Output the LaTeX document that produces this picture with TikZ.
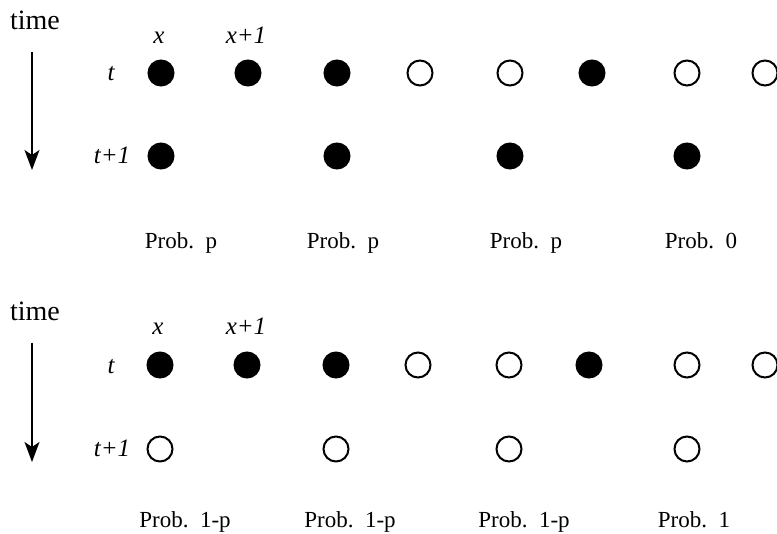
\documentclass[tikz,border=0pt]{standalone}
\usepackage{fontspec}
\setmainfont{Liberation Serif}
\usetikzlibrary{positioning,arrows.meta}

\begin{document}
\begin{tikzpicture}[x=0.5pt,y=-0.5pt,
      every node/.style={inner sep=0pt},
      occ/.style={circle,draw,fill=black,line width=1pt,minimum size=12.5pt},
      emp/.style={occ,fill=white},
      axlbl/.style={anchor=base,font=\fontsize{12.5}{14}\selectfont\itshape},
      timelbl/.style={anchor=base,font=\fontsize{14}{16}\selectfont},
      prob/.style={anchor=base,font=\fontsize{11.5}{13}\selectfont},
      timearrow/.style={-{Stealth[length=10pt,width=7.5pt,inset=2.5pt]},line width=0.6pt}]
    \useasboundingbox (0,0) rectangle (777,534);
    % upper panel: the occupied site stays occupied
    \node[timelbl] (time1) at (35,30) {time};
    \coordinate (as1) at (32,52);
    \coordinate (ae1) at (32,170);
    \draw[timearrow] (as1) -- (ae1);
    \node[axlbl] (x1) at (159,44) {x};
    \node[axlbl] (xp1) at (246,44) {x+1};
    \node[axlbl] (t1) at (111,81) {t};
    \node[axlbl] (tp1) at (112,164) {t+1};
    \foreach \xx/\st [count=\i] in {161/occ,248/occ,337/occ,420/emp,510/emp,592/occ,687/emp,765/emp}
      \node[\st] (a\i) at (\xx,73) {};
    \foreach \xx [count=\i] in {161,337,510,687}
      \node[occ] (b\i) at (\xx,156) {};
    \node[prob] (p1) at (181,249) {Prob.\ \ p};
    \node[prob] (p2) at (343,249) {Prob.\ \ p};
    \node[prob] (p3) at (526,249) {Prob.\ \ p};
    \node[prob] (p4) at (701,249) {Prob.\ \ 0};
    % lower panel: the site becomes empty
    \node[timelbl] (time2) at (35,321) {time};
    \coordinate (as2) at (32,343);
    \coordinate (ae2) at (32,462);
    \draw[timearrow] (as2) -- (ae2);
    \node[axlbl] (x2) at (158,335) {x};
    \node[axlbl] (xp2) at (246,335) {x+1};
    \node[axlbl] (t2) at (111,373) {t};
    \node[axlbl] (tp2) at (112,457) {t+1};
    \foreach \xx/\st [count=\i] in {160/occ,247/occ,336/occ,418/emp,509/emp,589/occ,687/emp,765/emp}
      \node[\st] (c\i) at (\xx,365) {};
    \foreach \xx [count=\i] in {160,336,509,687}
      \node[emp] (d\i) at (\xx,449) {};
    \node[prob] (q1) at (185,527) {Prob.\ \ 1-p};
    \node[prob] (q2) at (350,527) {Prob.\ \ 1-p};
    \node[prob] (q3) at (524,527) {Prob.\ \ 1-p};
    \node[prob] (q4) at (694,527) {Prob.\ \ 1};
\end{tikzpicture}
\end{document}
